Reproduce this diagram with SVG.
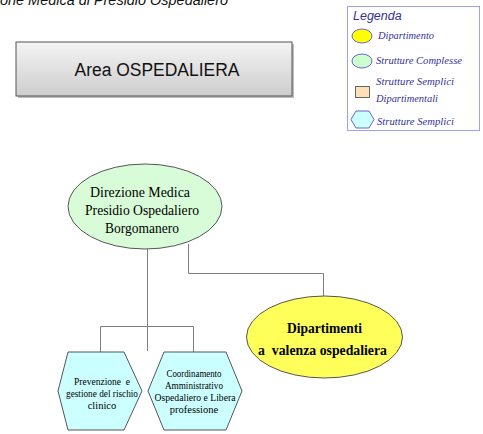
<svg xmlns="http://www.w3.org/2000/svg" width="483" height="434" viewBox="0 0 483 434">
<defs>
<linearGradient id="grey" x1="0" y1="0" x2="0" y2="1">
<stop offset="0" stop-color="#f4f4f4"/>
<stop offset="1" stop-color="#cdcdcd"/>
</linearGradient>
</defs>
<style>
.conn{fill:none;stroke:#808080;stroke-width:1}
.serif{font-family:"Liberation Serif","Times New Roman",serif;fill:#000}
.leg{font-family:"Liberation Serif","Times New Roman",serif;font-style:italic;font-size:10.5px;fill:#333399}
.hex{fill:#ccffff;stroke:#555;stroke-width:1}
</style>
<rect x="0" y="0" width="483" height="434" fill="#fff"/>
<text x="0" y="4.5" font-family="Liberation Sans, Arial, sans-serif" font-style="italic" font-size="14" fill="#111" textLength="228" lengthAdjust="spacingAndGlyphs">one Medica di Presidio Ospedaliero</text>

<g id="area">
<rect x="18" y="44" width="276" height="54" fill="#bbb"/>
<rect x="16" y="42" width="276" height="54" fill="url(#grey)" stroke="#555" stroke-width="1"/>
<text x="157" y="76" text-anchor="middle" font-family="Liberation Sans, Arial, sans-serif" font-size="18" fill="#111" textLength="165" lengthAdjust="spacingAndGlyphs">Area OSPEDALIERA</text>
</g>

<g id="legenda">
<rect x="347.5" y="6.5" width="132" height="124" fill="#fff" stroke="#a0a0f0" stroke-width="1"/>
<text x="353" y="20" font-family="Liberation Sans, Arial, sans-serif" font-style="italic" font-size="12.5" fill="#333399">Legenda</text>
<ellipse cx="362" cy="36" rx="10" ry="7" fill="#ffff00" stroke="#6666cc"/>
<text class="leg" x="378" y="39" textLength="56" lengthAdjust="spacingAndGlyphs">Dipartimento</text>
<ellipse cx="362" cy="61" rx="10" ry="7" fill="#ccffcc" stroke="#6666cc"/>
<text class="leg" x="376" y="64" textLength="86" lengthAdjust="spacingAndGlyphs">Strutture Complesse</text>
<rect x="355.5" y="86.5" width="14" height="11" fill="#fde0b8" stroke="#666"/>
<text class="leg" x="376" y="85" textLength="78" lengthAdjust="spacingAndGlyphs">Strutture Semplici</text>
<text class="leg" x="376" y="102" textLength="62" lengthAdjust="spacingAndGlyphs">Dipartimentali</text>
<polygon points="356,111 369,111 374,119.5 369,128 356,128 351,119.5" fill="#ccffff" stroke="#6666cc"/>
<text class="leg" x="377" y="125" textLength="77" lengthAdjust="spacingAndGlyphs">Strutture Semplici</text>
</g>

<g id="connectors">
<path class="conn" d="M147.5 249 V351"/>
<path class="conn" d="M100.5 352 V326.5 H193.5 V352"/>
<path class="conn" d="M188.5 244 V273.5 H323.5 V297"/>
</g>

<g id="direzione">
<ellipse cx="145" cy="206.5" rx="77" ry="42.5" fill="#d8fcd8" stroke="#555"/>
<text class="serif" x="140" y="197" text-anchor="middle" font-size="15" textLength="100" lengthAdjust="spacingAndGlyphs">Direzione Medica</text>
<text class="serif" x="142" y="215" text-anchor="middle" font-size="15" textLength="114" lengthAdjust="spacingAndGlyphs">Presidio Ospedaliero</text>
<text class="serif" x="142" y="233" text-anchor="middle" font-size="15" textLength="74" lengthAdjust="spacingAndGlyphs">Borgomanero</text>
</g>

<g id="dipartimenti">
<ellipse cx="324.5" cy="337" rx="78" ry="41" fill="#ffff5a" stroke="#555"/>
<text class="serif" x="324.5" y="333" text-anchor="middle" font-size="15" font-weight="bold" textLength="75" lengthAdjust="spacingAndGlyphs">Dipartimenti</text>
<text class="serif" x="322.5" y="355" text-anchor="middle" font-size="15" font-weight="bold" textLength="129" lengthAdjust="spacingAndGlyphs" xml:space="preserve">a  valenza ospedaliera</text>
</g>

<g id="prevenzione">
<polygon class="hex" points="68,352 124,352 142,391 124,430 68,430 58,391"/>
<text class="serif" x="102" y="385" text-anchor="middle" font-size="10.5" textLength="56" lengthAdjust="spacingAndGlyphs" xml:space="preserve">Prevenzione  e</text>
<text class="serif" x="102" y="397" text-anchor="middle" font-size="10.5" textLength="72" lengthAdjust="spacingAndGlyphs">gestione del rischio</text>
<text class="serif" x="102" y="409" text-anchor="middle" font-size="10.5">clinico</text>
</g>

<g id="coordinamento">
<polygon class="hex" points="164,352 226,352 242,391 226,430 164,430 148,391"/>
<text class="serif" x="194" y="377" text-anchor="middle" font-size="10.5" textLength="55" lengthAdjust="spacingAndGlyphs">Coordinamento</text>
<text class="serif" x="194" y="389" text-anchor="middle" font-size="10.5" textLength="58" lengthAdjust="spacingAndGlyphs">Amministrativo</text>
<text class="serif" x="195" y="401" text-anchor="middle" font-size="10.5" textLength="81" lengthAdjust="spacingAndGlyphs">Ospedaliero e Libera</text>
<text class="serif" x="194" y="413" text-anchor="middle" font-size="10.5">professione</text>
</g>
</svg>
